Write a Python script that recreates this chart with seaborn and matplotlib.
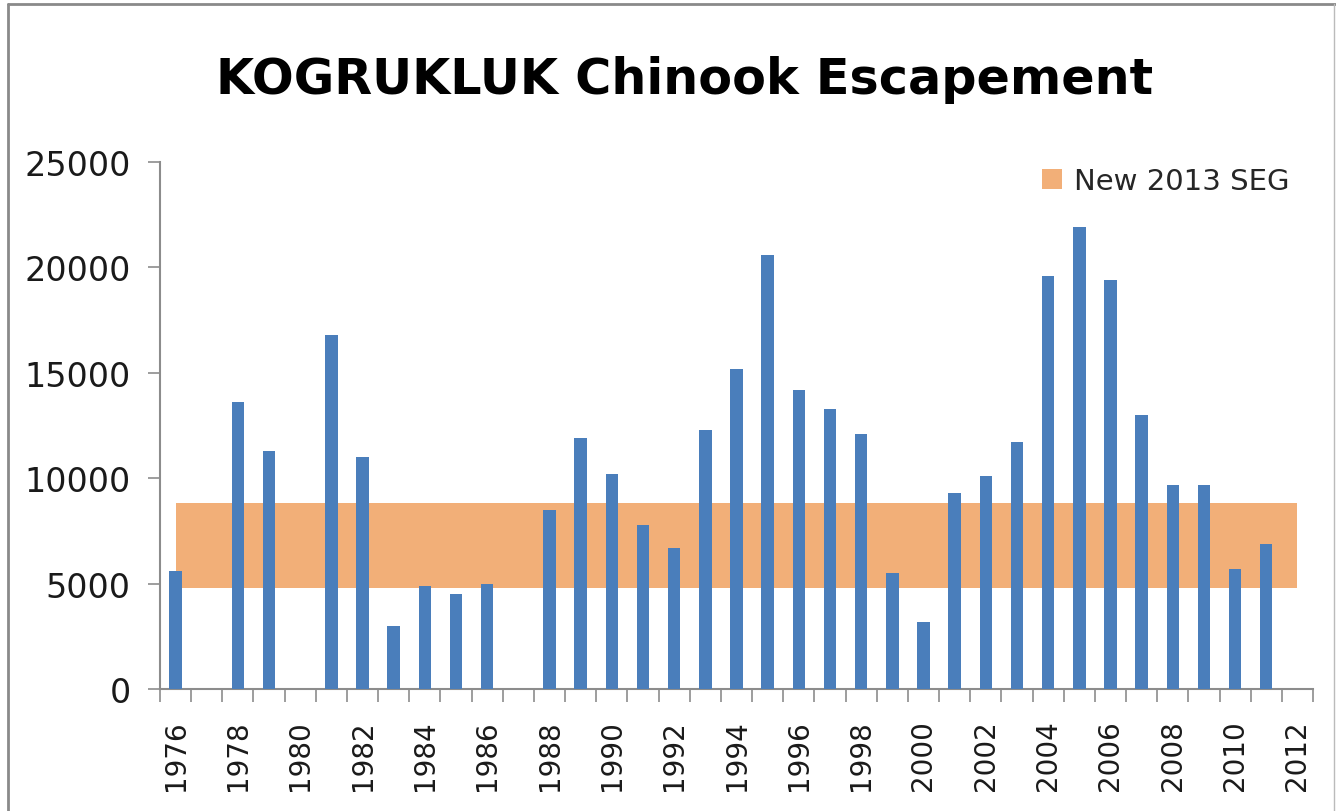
import numpy as np
import pandas as pd
import matplotlib
matplotlib.use("Agg")
import matplotlib.pyplot as plt
import seaborn as sns
from matplotlib.patches import Patch
from matplotlib.lines import Line2D

years = list(range(1976, 2013))
escapement = [5600, np.nan, 13600, 11300, np.nan, 16800, 11000, 3000, 4900, 4500,
              5000, np.nan, 8500, 11900, 10200, 7800, 6700, 12300, 15200, 20600,
              14200, 13300, 12100, 5500, 3200, 9300, 10100, 11700, 19600, 21900,
              19400, 13000, 9700, 9700, 5700, 6900, np.nan]
seg_low = 4800
seg_high = 8800
seg_label = "New 2013 SEG"
title = "KOGRUKLUK Chinook Escapement"
y_ticks = [0, 5000, 10000, 15000, 20000, 25000]

bar_color = "#4A7EBB"
band_color = "#F2AF78"
axis_color = "#8C8C8C"

sns.set_theme(style="white")
plt.rcParams['font.family'] = ['DejaVu Sans']

fig = plt.figure(figsize=(13.36, 8.12), dpi=100)
ax = fig.add_axes([160/1336, 1-690/812, (1313-160)/1336, (690-163)/812])

df = pd.DataFrame({"year": [str(y) for y in years], "value": escapement})
order = [str(y) for y in years]
sns.barplot(data=df, x="year", y="value", order=order, color=bar_color,
            width=0.4, saturation=1, ax=ax, zorder=3, errorbar=None,
            linewidth=0, edgecolor="none")

# SEG band spanning first to last category centers
ax.fill_between([0, len(years) - 1], seg_low, seg_high, color=band_color,
                linewidth=0, zorder=1)

ax.set_xlim(-0.5, len(years) - 0.5)
ax.set_ylim(0, 25000)
ax.set_yticks(y_ticks)
ax.set_yticklabels([str(v) for v in y_ticks], fontsize=24, color="#1a1a1a")

major_pos = [i for i, y in enumerate(years) if y % 2 == 0]
ax.set_xticks(major_pos)
ax.set_xticklabels([str(years[i]) for i in major_pos], rotation=90,
                   fontsize=20, color="#1a1a1a")
ax.set_xticks(np.arange(-0.5, len(years) + 0.5, 1), minor=True)
ax.tick_params(axis="x", which="major", length=0, pad=22)
ax.tick_params(axis="x", which="minor", length=9, width=1.2, color=axis_color,
               direction="out", bottom=True)
ax.tick_params(axis="y", which="major", length=9, width=1.2, color=axis_color,
               direction="out", left=True, pad=12)
ax.set_xlabel("")
ax.set_ylabel("")

for s in ["top", "right"]:
    ax.spines[s].set_visible(False)
for s in ["left", "bottom"]:
    ax.spines[s].set_color(axis_color)
    ax.spines[s].set_linewidth(1.5)

fig.text(685/1336, 1-80/812, title, ha="center", va="center",
         fontsize=35.5, fontweight="bold", color="black")

handle = Patch(facecolor=band_color, edgecolor="none")
leg = fig.legend([handle], [seg_label], loc="center left",
                 bbox_to_anchor=(1030/1336, 1-182/812), frameon=False,
                 fontsize=21, handlelength=0.7, handleheight=0.7,
                 handletextpad=0.4, borderaxespad=0)

# outer chart border
fig.add_artist(Line2D([8/1336, 8/1336], [0, 1-5/812], transform=fig.transFigure,
                      color="#8a8a8a", linewidth=2))
fig.add_artist(Line2D([8/1336, 1], [1-5/812, 1-5/812], transform=fig.transFigure,
                      color="#8a8a8a", linewidth=2))
fig.add_artist(Line2D([1-2/1336, 1-2/1336], [0, 1-5/812], transform=fig.transFigure,
                      color="#bbbbbb", linewidth=1))

fig.savefig("out.png", dpi=100, facecolor="white")
